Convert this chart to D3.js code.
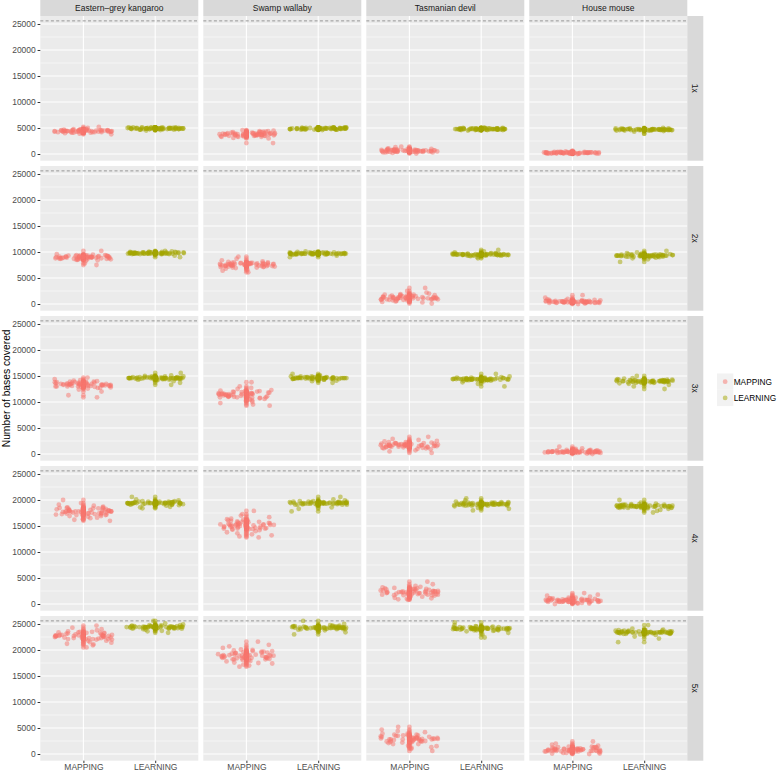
<!DOCTYPE html>
<html><head><meta charset="utf-8">
<script src="https://cdn.jsdelivr.net/npm/d3@7"></script>
<style>body{margin:0;background:#fff}svg{display:block;font-family:"Liberation Sans",Arial,Helvetica,sans-serif}</style>
</head><body><svg id="c" width="778" height="771"></svg>
<script>
// Values in hundreds of bases (multiply by UNIT). One list per coverage row (1x..5x).
const UNIT = 100;
const species = ["Eastern\u2013grey kangaroo", "Swamp wallaby", "Tasmanian devil", "House mouse"];
const coverages = ["1x", "2x", "3x", "4x", "5x"];
const methods = ["MAPPING", "LEARNING"];
const yTicks = [0, 5000, 10000, 15000, 20000, 25000];
const referenceLength = 25600;

const kangarooMapping = [
 [44,46,42,45,43,47,41,44,48,45,43,46,40,44,42,47,45,39,44,46,43,48,42,45,44,41,46,43,47,44,38,45,42,46,44,50,43,45,41,52,45,43,47,44,42,46,44,48,43,45,41,46,44,47,43,45,42,44,46,45],
 [90,88,92,87,91,94,86,89,93,90,85,92,88,91,84,95,89,87,92,90,78,93,88,91,86,94,90,89,83,92,88,90,96,87,91,75,89,102,90,93,89,91,87,92,90,88,93,86,90,91,89,85,92,88,94,90,87,91,89,93],
 [134,132,137,130,135,139,128,133,138,134,126,140,131,136,124,138,133,129,141,135,120,137,131,134,127,142,133,130,138,135,113,136,131,144,132,135,109,134,147,130,133,135,131,137,134,132,139,129,134,136,133,127,138,131,135,133,130,137,134,132],
 [178,175,182,172,179,185,169,177,184,178,166,187,173,180,163,186,176,171,189,179,168,183,174,178,165,191,176,172,184,179,162,181,174,194,173,180,160,178,200,172,177,180,174,183,178,175,185,171,179,181,177,169,184,174,180,177,172,186,178,176],
 [227,224,231,221,228,234,218,226,233,227,215,236,222,229,212,235,225,220,238,228,214,232,223,227,211,240,225,221,233,228,209,230,223,243,222,229,205,227,247,221,226,229,223,232,227,224,234,220,228,230,226,218,233,223,229,226,221,235,227,225]
];
const kangarooLearning = [
 [49,50,48,49,51,47,49,50,48,49,50,46,49,48,51,49,50,47,49,48,50,49,51,48,49,47,50,49,48,50,45,49,50,48,49,51,48,49,47,50,49,48,50,49,47,50,49,48,51,49,48,50,49,47,49,50,48,49,51,49],
 [98,97,99,98,96,99,98,97,100,98,99,96,98,97,100,98,95,99,98,97,99,98,101,97,98,96,99,98,97,100,98,93,99,98,97,99,90,98,102,97,98,97,99,98,96,99,97,98,100,98,97,99,96,98,99,97,98,100,97,98],
 [146,145,148,146,143,147,146,144,149,146,147,143,146,145,150,146,142,148,146,145,147,146,151,144,146,140,148,146,145,149,146,137,147,146,144,148,133,146,156,145,146,145,147,146,144,148,145,146,149,146,145,147,143,146,148,145,146,147,144,146],
 [194,193,196,194,191,197,194,192,198,194,195,190,194,193,199,194,189,196,194,192,197,194,201,191,194,187,196,194,193,198,194,186,195,194,191,197,184,194,206,193,194,193,195,194,192,196,193,194,197,194,193,195,191,194,196,193,194,195,192,194],
 [244,243,246,244,241,247,244,242,248,244,245,240,244,243,249,244,239,246,244,242,247,244,251,241,244,237,246,244,243,248,244,236,245,244,241,247,233,244,256,243,244,243,245,244,242,246,243,244,247,244,243,245,241,244,246,243,244,245,242,244]
];
const wallabyMapping = [
 [38,36,40,35,39,42,33,37,41,38,34,43,36,39,31,40,37,44,35,38,42,36,39,33,41,37,45,34,38,40,36,30,39,43,37,35,21,40,38,46,37,39,35,41,38,36,40,34,38,42,37,39,33,40,36,38,44,35,39,37],
 [76,74,78,72,77,80,70,75,79,76,73,82,71,77,68,79,75,74,81,76,66,78,73,77,70,84,75,72,79,76,64,78,74,87,73,77,61,76,91,75,75,77,73,79,76,74,78,71,76,80,75,72,78,74,77,69,76,79,73,77],
 [114,111,118,108,115,121,105,113,119,114,102,123,109,116,98,120,112,110,125,115,100,118,107,114,103,127,112,108,121,115,95,117,110,130,111,116,93,114,138,109,113,116,110,119,114,111,117,106,115,120,112,109,118,113,116,104,114,122,111,115],
 [152,148,157,144,153,161,140,150,159,152,136,164,145,155,132,160,149,146,167,153,134,158,143,152,138,170,149,144,162,153,130,156,146,173,147,154,128,152,179,145,151,155,147,158,152,148,161,142,153,157,150,144,160,149,154,151,145,163,152,149],
 [189,186,194,182,190,198,178,187,196,189,175,201,183,192,172,197,186,184,204,190,174,195,181,189,176,207,186,182,199,190,170,193,184,210,185,191,168,189,216,183,188,192,184,195,189,185,198,179,190,194,187,181,197,186,191,188,182,200,189,186]
];
const wallabyLearning = [
 [49,48,50,49,47,50,48,49,51,48,49,50,47,49,48,50,49,48,51,49,47,50,48,49,50,49,48,46,50,49,48,49,51,48,50,49,47,49,50,48,49,50,48,49,47,50,49,48,50,49,51,48,49,47,50,48,49,50,48,49],
 [97,96,98,97,95,98,97,96,99,97,98,95,97,96,99,97,98,96,97,100,96,98,97,95,98,97,99,96,97,98,93,97,99,96,98,97,90,97,101,96,97,96,98,97,95,98,96,97,99,97,96,98,95,97,98,96,97,99,96,97],
 [146,145,148,146,144,147,146,145,149,146,147,143,146,145,150,146,144,148,146,145,147,146,151,144,146,141,148,146,145,149,146,140,147,146,144,148,137,146,154,145,146,145,147,146,144,148,145,146,149,146,145,147,143,146,148,145,146,147,144,146],
 [194,193,196,194,191,197,194,192,198,194,195,190,194,193,199,194,189,196,194,192,197,194,201,191,194,186,196,194,193,198,194,183,195,194,191,197,178,194,206,193,194,193,195,194,192,196,193,194,197,194,193,195,191,194,196,193,194,195,192,194],
 [243,242,245,243,240,246,243,241,247,243,244,239,243,242,248,243,238,245,243,241,246,243,250,240,243,236,245,243,242,247,243,234,244,243,240,246,230,243,256,242,243,242,244,243,241,245,242,243,246,243,242,244,240,243,245,242,243,244,241,243]
];
const devilMapping = [
 [6,4,8,5,7,3,9,6,5,10,7,4,6,8,2,7,5,11,6,4,8,6,13,5,7,3,9,6,5,8,4,7,6,10,5,1,7,6,14,8,6,5,7,8,4,6,9,5,7,6,3,8,6,5,10,7,4,6,8,5],
 [12,10,15,8,13,18,6,11,16,12,9,20,7,14,4,17,11,10,22,13,5,15,9,12,25,8,14,11,3,16,10,13,19,7,12,1,14,31,11,9,11,13,9,15,12,10,17,8,13,11,14,6,12,16,10,13,9,18,11,12],
 [17,15,20,13,18,23,11,16,21,17,12,25,14,19,9,22,16,15,27,18,7,20,13,17,10,24,16,14,21,18,5,19,15,29,14,18,2,17,33,15,16,18,14,20,17,15,22,12,17,19,16,11,21,15,18,16,13,23,17,15],
 [23,20,27,17,24,30,14,22,28,23,12,32,18,25,10,29,21,19,35,24,13,27,17,23,11,33,21,18,29,24,9,26,19,38,18,25,8,23,43,20,22,25,19,28,23,20,30,16,24,26,22,15,29,19,25,22,17,31,23,21],
 [29,26,33,22,30,37,19,28,35,29,16,39,24,31,13,36,27,25,42,30,15,34,22,29,12,44,27,23,36,30,10,32,24,47,23,31,6,29,52,25,28,31,25,35,29,26,37,21,30,33,28,19,36,25,31,28,23,39,29,27]
];
const devilLearning = [
 [48,47,49,48,46,49,48,47,50,48,49,47,48,46,49,48,50,47,48,49,47,48,49,45,48,47,49,48,50,47,48,49,48,46,49,47,48,50,48,47,48,47,49,48,46,48,49,47,48,50,47,48,49,46,48,47,49,48,47,49],
 [95,94,97,95,93,96,95,94,98,95,96,93,95,94,97,95,99,94,95,96,92,95,97,94,96,95,98,93,95,96,94,95,101,94,96,90,95,104,94,88,95,94,96,95,93,96,94,95,97,95,94,96,93,95,97,94,95,96,94,95],
 [144,143,146,144,142,145,144,143,147,144,145,141,144,143,148,144,140,146,144,143,145,144,149,142,144,138,146,144,143,147,144,135,145,144,142,146,130,144,154,143,144,143,145,144,142,146,143,144,147,144,143,145,141,144,146,143,144,145,142,144],
 [192,191,194,192,189,195,192,190,196,192,193,188,192,191,197,192,187,194,192,190,195,192,199,189,192,185,194,192,191,196,192,183,193,192,189,195,180,192,203,191,192,191,193,192,190,194,191,192,195,192,191,193,189,192,194,191,192,193,190,192],
 [241,240,243,241,238,244,241,239,245,241,242,237,241,240,246,241,236,243,241,239,244,241,248,238,241,233,243,241,240,245,241,230,242,241,238,244,224,241,253,240,241,240,242,241,239,243,240,241,244,241,240,242,238,241,243,240,241,242,239,241]
];
const mouseMapping = [
 [2,3,1,2,4,3,2,1,3,2,5,2,3,1,2,4,2,3,0,2,3,1,2,3,4,2,1,3,2,6,2,3,1,2,3,2,4,1,3,2,2,3,1,2,3,4,2,1,3,2,2,3,1,4,2,3,2,1,3,2],
 [4,3,6,2,5,7,3,4,8,4,2,6,5,3,9,4,1,5,4,6,3,10,4,2,5,4,7,3,4,12,5,3,4,6,2,0,4,17,5,3,4,5,3,6,4,2,5,7,4,3,5,4,6,3,4,8,4,5,3,4],
 [4,3,6,2,5,7,3,4,8,4,2,6,5,3,9,4,1,5,4,6,3,10,4,2,5,4,7,3,4,11,5,3,4,6,2,0,4,14,5,3,4,5,3,6,4,2,5,7,4,3,5,4,6,3,4,8,4,5,3,4],
 [7,5,9,4,8,11,3,6,10,7,2,12,5,8,1,11,6,5,14,8,2,9,4,7,3,16,6,4,10,8,0,9,5,18,4,8,1,7,21,5,7,8,5,10,7,4,9,11,6,5,8,7,10,5,7,12,6,8,4,7],
 [8,6,11,5,9,13,3,7,12,8,2,14,6,10,1,13,7,6,16,9,2,11,5,8,3,18,7,5,12,9,0,10,6,20,5,9,1,8,24,6,8,9,6,11,8,5,10,13,7,6,9,8,12,6,8,14,7,9,5,8]
];
const mouseLearning = [
 [47,46,48,47,45,48,47,46,49,47,48,46,47,44,48,47,46,49,47,45,48,47,46,47,48,43,47,46,49,47,48,46,47,39,48,47,46,48,47,50,47,46,48,47,45,47,48,46,47,49,46,47,48,45,47,46,48,47,46,48],
 [93,92,95,91,94,96,92,93,97,93,90,95,92,94,98,93,91,95,93,89,94,92,96,93,88,95,93,92,99,94,93,91,95,86,93,94,81,93,102,92,93,92,94,93,91,95,92,93,96,93,92,94,90,93,95,92,93,94,91,93],
 [140,139,142,138,141,144,137,140,143,140,136,142,139,141,145,140,135,142,140,138,141,139,146,137,140,133,142,140,139,144,140,130,141,140,138,143,125,140,150,139,140,139,141,140,138,142,139,140,143,140,139,141,137,140,142,139,140,141,138,140],
 [188,187,190,188,185,191,188,186,192,188,189,184,188,187,193,188,183,190,188,186,191,188,195,185,188,181,190,188,187,192,188,179,189,188,185,191,176,188,200,187,188,187,189,188,186,190,187,188,191,188,187,189,185,188,190,187,188,189,186,188],
 [234,233,236,234,231,237,234,232,238,234,235,230,234,233,239,234,229,236,234,232,237,234,241,231,234,226,236,234,233,238,234,222,235,234,231,237,215,234,248,233,234,233,235,234,232,236,233,234,237,234,233,235,231,234,236,233,234,235,232,234]
];

const bySpecies = [
  [kangarooMapping, kangarooLearning],
  [wallabyMapping, wallabyLearning],
  [devilMapping, devilLearning],
  [mouseMapping, mouseLearning]
];
const colors = {MAPPING: "#F8766D", LEARNING: "#A3A500"};

// Layout
const svg = d3.select("#c");
const left = 40.3, panelW = 158, gapX = 5, top0 = 16, panelH = 144.7, stepY = 150, stripW = 16;
const font = 8.5;
const R = 2.4;

// discrete ggplot expansion (0.6 units each side)
const xPos = d3.scalePoint().domain(methods).range([panelW * 0.6 / 2.2, panelW * 1.6 / 2.2]);
const y = d3.scaleLinear().domain([-1288, 26538]).range([panelH, 0]);
const yMinor = [2500, 7500, 12500, 17500, 22500];

// deterministic jitter offsets (positional only)
function jit(i, g) { const s = Math.sin(i * 12.9898 + g * 78.233) * 43758.5453; return (s - Math.floor(s)) * 2 - 1; }
const jitterHalf = (xPos("LEARNING") - xPos("MAPPING")) * 0.4;

species.forEach((sp, c) => {
  const px = left + c * (panelW + gapX);
  svg.append("rect").attr("x", px).attr("y", 0).attr("width", panelW).attr("height", 16).attr("fill", "#D9D9D9");
  svg.append("text").attr("x", px + panelW / 2).attr("y", 8).attr("dy", "0.35em").attr("text-anchor", "middle")
    .attr("font-size", font).attr("fill", "#1A1A1A").text(sp);

  coverages.forEach((cov, r) => {
    const py = top0 + r * stepY;
    const g = svg.append("g").attr("transform", `translate(${px},${py})`);
    g.append("rect").attr("width", panelW).attr("height", panelH).attr("fill", "#EBEBEB");
    g.selectAll(".mn").data(yMinor).join("line").attr("x1", 0).attr("x2", panelW)
      .attr("y1", d => y(d)).attr("y2", d => y(d)).attr("stroke", "#fff").attr("stroke-width", 0.55);
    g.selectAll(".mj").data(yTicks).join("line").attr("x1", 0).attr("x2", panelW)
      .attr("y1", d => y(d)).attr("y2", d => y(d)).attr("stroke", "#fff").attr("stroke-width", 1.1);
    g.selectAll(".vx").data(methods).join("line").attr("y1", 0).attr("y2", panelH)
      .attr("x1", d => xPos(d)).attr("x2", d => xPos(d)).attr("stroke", "#fff").attr("stroke-width", 1.1);
    g.append("line").attr("x1", 0).attr("x2", panelW).attr("y1", y(referenceLength)).attr("y2", y(referenceLength))
      .attr("stroke", "#7F7F7F").attr("stroke-width", 0.8).attr("stroke-dasharray", "3,2.3");

    methods.forEach((m, k) => {
      const vals = bySpecies[c][k][r].map(v => v * UNIT);
      const gid = c * 10 + r * 2 + k;
      g.append("g").selectAll("circle").data(vals).join("circle")
        .attr("cx", xPos(m)).attr("cy", d => y(d)).attr("r", R)
        .attr("fill", colors[m]).attr("fill-opacity", 0.5);
      g.append("g").selectAll("circle").data(vals).join("circle")
        .attr("cx", (d, i) => xPos(m) + jit(i, gid) * jitterHalf).attr("cy", d => y(d)).attr("r", R)
        .attr("fill", colors[m]).attr("fill-opacity", 0.5);
    });

    if (c === 0) {
      const ax = g.append("g").call(d3.axisLeft(y).tickValues(yTicks).tickSize(2.7).tickPadding(1.8).tickFormat(d3.format("d")));
      ax.select(".domain").remove();
      ax.selectAll("line").attr("stroke", "#333333");
      ax.selectAll("text").attr("font-size", font).attr("fill", "#4D4D4D").attr("font-family", null);
    }
    if (r === coverages.length - 1) {
      const ax = g.append("g").attr("transform", `translate(0,${panelH})`)
        .call(d3.axisBottom(xPos).tickSize(2.4).tickPadding(1.2));
      ax.select(".domain").remove();
      ax.selectAll("line").attr("stroke", "#333333");
      ax.selectAll("text").attr("font-size", font).attr("fill", "#4D4D4D").attr("font-family", null).attr("dy", "0.68em");
    }
    if (c === species.length - 1) {
      const sx = px + panelW;
      svg.append("rect").attr("x", sx).attr("y", py).attr("width", stripW).attr("height", panelH).attr("fill", "#D9D9D9");
      svg.append("text").attr("transform", `translate(${sx + stripW / 2},${py + panelH / 2}) rotate(90)`)
        .attr("text-anchor", "middle").attr("dy", "0.35em").attr("font-size", font).attr("fill", "#1A1A1A").text(cov);
    }
  });
});

svg.append("text").attr("transform", `translate(6.5,${top0 + (4 * stepY + panelH) / 2}) rotate(-90)`)
  .attr("text-anchor", "middle").attr("dy", "0.35em").attr("font-size", 10.3).attr("fill", "#000").text("Number of bases covered");

// legend
const key = 16.3;
const lg = svg.append("g").attr("transform", "translate(717,373.5)");
methods.forEach((m, i) => {
  lg.append("rect").attr("x", 0).attr("y", i * key).attr("width", key).attr("height", key).attr("fill", "#F2F2F2");
  lg.append("circle").attr("cx", key / 2).attr("cy", i * key + key / 2).attr("r", R).attr("fill", colors[m]).attr("fill-opacity", 0.5);
  lg.append("text").attr("x", 16.7).attr("y", i * key + key / 2).attr("dy", "0.35em").attr("font-size", 8.3).attr("fill", "#000").text(m);
});
</script></body></html>
